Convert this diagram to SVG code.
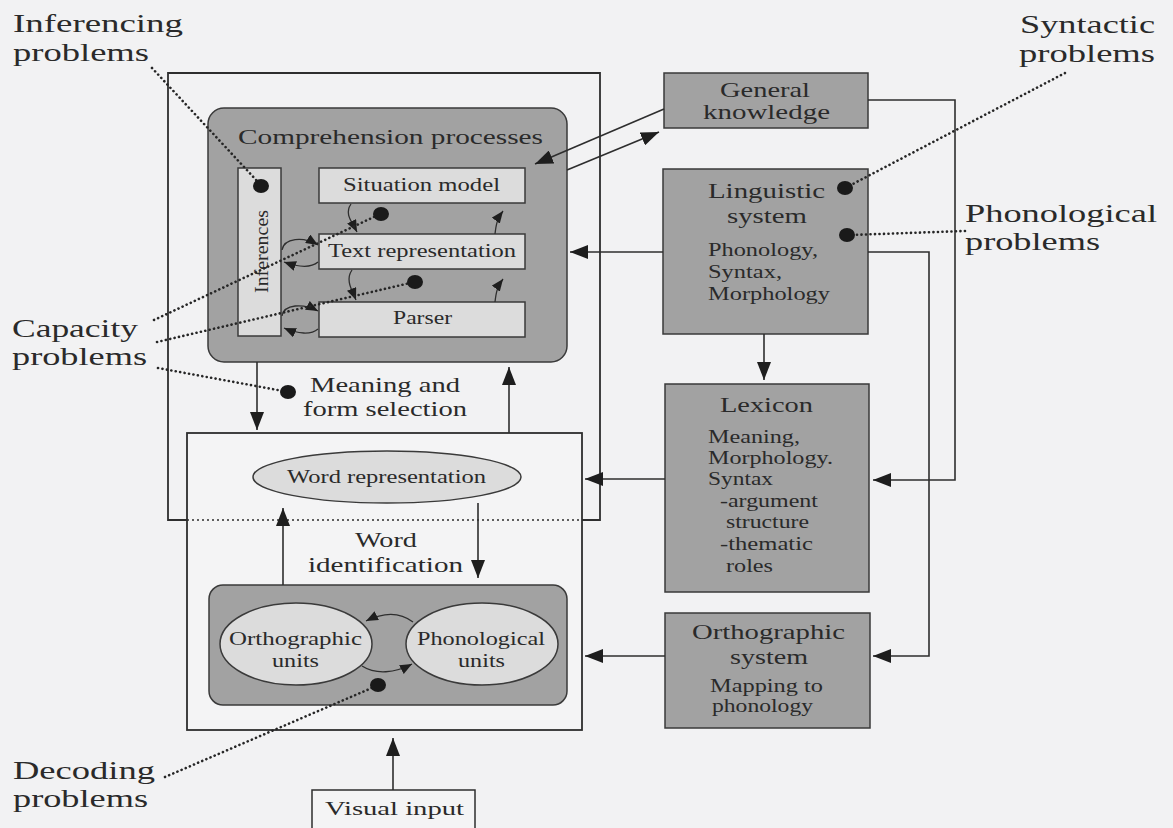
<svg xmlns="http://www.w3.org/2000/svg" width="1173" height="828" viewBox="0 0 1173 828">
  <defs>
    <marker id="arr" markerUnits="userSpaceOnUse" markerWidth="18" markerHeight="14" refX="18" refY="7" orient="auto">
      <path d="M0,0 L18,7 L0,14 z" fill="#1e1e1e"/>
    </marker>
    <marker id="arrS" markerUnits="userSpaceOnUse" markerWidth="12" markerHeight="10" refX="12" refY="5" orient="auto">
      <path d="M0,0 L12,5 L0,10 z" fill="#1e1e1e"/>
    </marker>
    <style>
      text { font-family: "Liberation Serif", "Times New Roman", serif; fill: #2a2a2a; }
      .lbl { font-size: 25px; }
      .hd { font-size: 22px; }
      .sm { font-size: 19px; }
      .dark { fill: #a2a2a2; stroke: #3a3a3a; stroke-width: 1.5; }
      .light { fill: #dcdcdc; stroke: #3a3a3a; stroke-width: 1.5; }
      .frame { fill: none; stroke: #2e2e2e; stroke-width: 1.8; }
      .conn { fill: none; stroke: #2e2e2e; stroke-width: 1.6; }
      .curve { fill: none; stroke: #2e2e2e; stroke-width: 1.3; }
      .dots { fill: none; stroke: #262626; stroke-width: 2.6; stroke-dasharray: 0.1 4.4; stroke-linecap: round; }
      .spot { fill: #1a1a1a; }
    </style>
  </defs>

  <rect x="0" y="0" width="1173" height="828" fill="#f2f2f3"/>

  <!-- outer frame: comprehension level -->
  <g id="outer-frame">
    <path class="frame" d="M187,520 H168 V73 H600 V520 H582"/>
  </g>

  <!-- comprehension processes -->
  <g id="comprehension">
    <rect class="dark" x="208" y="108" width="359" height="254" rx="16"/>
    <text class="hd" x="238" y="144" textLength="305" lengthAdjust="spacingAndGlyphs" font-size="24">Comprehension processes</text>
  </g>

  <g id="inferences">
    <rect class="light" x="238" y="168" width="43" height="168"/>
    <text class="sm" transform="translate(268,293) rotate(-90)" textLength="83" lengthAdjust="spacingAndGlyphs" font-size="20">Inferences</text>
  </g>

  <g id="situation-model">
    <rect class="light" x="319" y="168" width="206" height="35"/>
    <text class="sm" x="343" y="191" textLength="157" lengthAdjust="spacingAndGlyphs">Situation model</text>
  </g>

  <g id="text-representation">
    <rect class="light" x="319" y="234" width="206" height="35"/>
    <text class="sm" x="328" y="257" textLength="188" lengthAdjust="spacingAndGlyphs">Text representation</text>
  </g>

  <g id="parser">
    <rect class="light" x="319" y="302" width="206" height="35"/>
    <text class="sm" x="393" y="324" textLength="59" lengthAdjust="spacingAndGlyphs">Parser</text>
  </g>

  <g id="meaning-form">
    <text class="hd" x="310" y="392" textLength="150" lengthAdjust="spacingAndGlyphs">Meaning and</text>
    <text class="hd" x="303" y="416" textLength="164" lengthAdjust="spacingAndGlyphs">form selection</text>
  </g>

  <!-- word identification -->
  <g id="word-identification">
    <rect fill="#f4f4f5" stroke="#2e2e2e" stroke-width="1.8" x="187" y="433" width="395" height="297"/>
    <text class="hd" x="355" y="547" textLength="62" lengthAdjust="spacingAndGlyphs" font-size="22">Word</text>
    <text class="hd" x="308" y="572" textLength="155" lengthAdjust="spacingAndGlyphs" font-size="22">identification</text>
  </g>
  <!-- dotted boundary of the comprehension level across word identification -->
  <line x1="187" y1="520" x2="582" y2="520" stroke="#2e2e2e" stroke-width="1.6" stroke-dasharray="2 3"/>

  <g id="word-representation">
    <ellipse class="light" cx="387" cy="477" rx="134" ry="26"/>
    <text class="sm" x="287" y="483" font-size="18" textLength="199" lengthAdjust="spacingAndGlyphs">Word representation</text>
  </g>

  <g id="decoding-units">
    <rect class="dark" x="209" y="585" width="358" height="120" rx="14"/>
  </g>

  <g id="orthographic-units">
    <ellipse class="light" cx="296" cy="644" rx="76" ry="41"/>
    <text class="sm" x="229" y="645" font-size="20" textLength="133" lengthAdjust="spacingAndGlyphs">Orthographic</text>
    <text class="sm" x="272" y="667" font-size="20" textLength="47" lengthAdjust="spacingAndGlyphs">units</text>
  </g>

  <g id="phonological-units">
    <ellipse class="light" cx="482" cy="644" rx="76" ry="41"/>
    <text class="sm" x="417" y="645" font-size="20" textLength="128" lengthAdjust="spacingAndGlyphs">Phonological</text>
    <text class="sm" x="458" y="667" font-size="20" textLength="47" lengthAdjust="spacingAndGlyphs">units</text>
  </g>

  <g id="visual-input">
    <rect fill="#f4f4f5" stroke="#2e2e2e" stroke-width="1.5" x="312" y="790" width="163" height="40"/>
    <text class="sm" x="325" y="815" font-size="20" textLength="139" lengthAdjust="spacingAndGlyphs">Visual input</text>
  </g>

  <!-- knowledge sources -->
  <g id="general-knowledge">
    <rect class="dark" x="664" y="73" width="204" height="55"/>
    <text class="hd" x="720" y="97" font-size="20" textLength="90" lengthAdjust="spacingAndGlyphs">General</text>
    <text class="hd" x="703" y="119" font-size="20" textLength="127" lengthAdjust="spacingAndGlyphs">knowledge</text>
  </g>

  <g id="linguistic-system">
    <rect class="dark" x="663" y="169" width="205" height="165"/>
    <text class="hd" x="708" y="198" textLength="117" lengthAdjust="spacingAndGlyphs">Linguistic</text>
    <text class="hd" x="727" y="223" textLength="80" lengthAdjust="spacingAndGlyphs">system</text>
    <text class="sm" x="708" y="256" textLength="110" lengthAdjust="spacingAndGlyphs">Phonology,</text>
    <text class="sm" x="708" y="278" textLength="74" lengthAdjust="spacingAndGlyphs">Syntax,</text>
    <text class="sm" x="708" y="300" textLength="122" lengthAdjust="spacingAndGlyphs">Morphology</text>
  </g>

  <g id="lexicon">
    <rect class="dark" x="665" y="384" width="204" height="208"/>
    <text class="hd" x="720" y="412" textLength="93" lengthAdjust="spacingAndGlyphs">Lexicon</text>
    <text class="sm" x="708" y="443" textLength="92" lengthAdjust="spacingAndGlyphs">Meaning,</text>
    <text class="sm" x="708" y="464" textLength="125" lengthAdjust="spacingAndGlyphs">Morphology.</text>
    <text class="sm" x="708" y="485" textLength="65" lengthAdjust="spacingAndGlyphs">Syntax</text>
    <text class="sm" x="720" y="507" textLength="98" lengthAdjust="spacingAndGlyphs">-argument</text>
    <text class="sm" x="726" y="528" textLength="83" lengthAdjust="spacingAndGlyphs">structure</text>
    <text class="sm" x="720" y="550" textLength="93" lengthAdjust="spacingAndGlyphs">-thematic</text>
    <text class="sm" x="726" y="572" textLength="47" lengthAdjust="spacingAndGlyphs">roles</text>
  </g>

  <g id="orthographic-system">
    <rect class="dark" x="665" y="613" width="205" height="115"/>
    <text class="hd" x="692" y="639" textLength="153" lengthAdjust="spacingAndGlyphs">Orthographic</text>
    <text class="hd" x="730" y="664" textLength="78" lengthAdjust="spacingAndGlyphs">system</text>
    <text class="sm" x="710" y="692" textLength="113" lengthAdjust="spacingAndGlyphs">Mapping to</text>
    <text class="sm" x="712" y="712" textLength="101" lengthAdjust="spacingAndGlyphs">phonology</text>
  </g>

  <!-- connectors -->
  <g id="connectors">
    <line class="conn" x1="664" y1="109" x2="535" y2="164" marker-end="url(#arr)"/>
    <line class="conn" x1="567" y1="170" x2="659" y2="132" marker-end="url(#arr)"/>
    <line class="conn" x1="663" y1="252" x2="570" y2="252" marker-end="url(#arr)"/>
    <line class="conn" x1="665" y1="479" x2="585" y2="479" marker-end="url(#arr)"/>
    <line class="conn" x1="665" y1="656" x2="585" y2="656" marker-end="url(#arr)"/>
    <line class="conn" x1="764" y1="334" x2="764" y2="380" marker-end="url(#arr)"/>
    <path class="conn" d="M868,100 H955 V480 H873" marker-end="url(#arr)"/>
    <path class="conn" d="M868,252 H929 V656 H873" marker-end="url(#arr)"/>
    <line class="conn" x1="257" y1="362" x2="257" y2="430" marker-end="url(#arr)"/>
    <line class="conn" x1="509" y1="433" x2="509" y2="367" marker-end="url(#arr)"/>
    <line class="conn" x1="478" y1="503" x2="478" y2="578" marker-end="url(#arr)"/>
    <line class="conn" x1="283" y1="585" x2="283" y2="508" marker-end="url(#arr)"/>
    <line class="conn" x1="393" y1="790" x2="393" y2="738" marker-end="url(#arr)"/>

    <!-- small feedback curves inside comprehension -->
    <path class="curve" d="M351,204 C344,214 352,222 357,232" marker-end="url(#arrS)"/>
    <path class="curve" d="M495,234 C496,225 497,219 503,211" marker-end="url(#arrS)"/>
    <path class="curve" d="M352,270 C345,280 352,290 356,300" marker-end="url(#arrS)"/>
    <path class="curve" d="M495,302 C496,293 497,287 503,279" marker-end="url(#arrS)"/>
    <path class="curve" d="M282,250 C284,238 303,236 318,245" marker-end="url(#arrS)"/>
    <path class="curve" d="M318,262 C311,268 298,267 284,262" marker-end="url(#arrS)"/>
    <path class="curve" d="M282,316 C284,304 303,303 318,311" marker-end="url(#arrS)"/>
    <path class="curve" d="M318,329 C311,335 298,334 284,328" marker-end="url(#arrS)"/>

    <!-- orthographic / phonological units exchange -->
    <path class="curve" d="M413,622 C400,612 384,612 366,621" marker-end="url(#arrS)"/>
    <path class="curve" d="M362,666 C376,675 395,673 412,664" marker-end="url(#arrS)"/>
  </g>

  <!-- problem annotations -->
  <g id="annotations">
    <text class="lbl" x="13" y="32" textLength="170" lengthAdjust="spacingAndGlyphs">Inferencing</text>
    <text class="lbl" x="13" y="61" textLength="136" lengthAdjust="spacingAndGlyphs">problems</text>
    <text class="lbl" x="12" y="337" textLength="126" lengthAdjust="spacingAndGlyphs">Capacity</text>
    <text class="lbl" x="12" y="365" textLength="135" lengthAdjust="spacingAndGlyphs">problems</text>
    <text class="lbl" x="13" y="779" textLength="142" lengthAdjust="spacingAndGlyphs">Decoding</text>
    <text class="lbl" x="13" y="807" textLength="135" lengthAdjust="spacingAndGlyphs">problems</text>
    <text class="lbl" x="1020" y="33" textLength="135" lengthAdjust="spacingAndGlyphs">Syntactic</text>
    <text class="lbl" x="1019" y="62" textLength="136" lengthAdjust="spacingAndGlyphs">problems</text>
    <text class="lbl" x="965" y="222" textLength="192" lengthAdjust="spacingAndGlyphs">Phonological</text>
    <text class="lbl" x="965" y="250" textLength="135" lengthAdjust="spacingAndGlyphs">problems</text>

    <line class="dots" x1="152" y1="68" x2="258" y2="182"/>
    <line class="dots" x1="154" y1="320" x2="376" y2="216"/>
    <line class="dots" x1="157" y1="342" x2="410" y2="283"/>
    <line class="dots" x1="158" y1="368" x2="283" y2="391"/>
    <line class="dots" x1="1065" y1="73" x2="849" y2="186"/>
    <line class="dots" x1="965" y1="231" x2="851" y2="235"/>
    <line class="dots" x1="165" y1="777" x2="374" y2="687"/>

    <ellipse class="spot" cx="261" cy="186" rx="8" ry="7"/>
    <ellipse class="spot" cx="381" cy="214" rx="8" ry="7"/>
    <ellipse class="spot" cx="415" cy="282" rx="8" ry="7"/>
    <ellipse class="spot" cx="288" cy="392" rx="8" ry="7"/>
    <ellipse class="spot" cx="845" cy="188" rx="8" ry="7"/>
    <ellipse class="spot" cx="847" cy="235" rx="8" ry="7"/>
    <ellipse class="spot" cx="378" cy="685" rx="8" ry="7"/>
  </g>
</svg>
